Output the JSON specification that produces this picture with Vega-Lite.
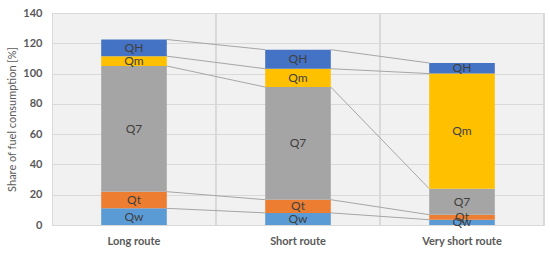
{
  "$schema": "https://vega.github.io/schema/vega-lite/v6.json",
  "width": 492,
  "height": 212,
  "autosize": {"type": "none"},
  "padding": {"left": 52, "top": 13, "right": 6, "bottom": 28},
  "background": "white",
  "config": {
    "view": {"fill": "#f1f1f1", "stroke": "#d9d9d9", "strokeWidth": 1},
    "font": "Lato",
    "axis": {"labelOverlap": false},
    "axisQuantitative": {"labelOverlap": false},
    "axisX": {"title": null, "labelAngle": 0, "labelAlign": "center", "labelBaseline": "top", "labelFontWeight": "bold", "labelColor": "#595959", "labelFontSize": 11, "ticks": false, "domain": false, "grid": false, "labelPadding": 10},
    "axisY": {"labelOverlap": false, "titleFontWeight": "normal", "titleColor": "#595959", "titleFontSize": 11, "labelFontWeight": "bold", "labelFontSize": 11, "labelColor": "#595959", "domain": false, "ticks": false, "gridColor": "#d9d9d9", "labelPadding": 10, "titlePadding": 5}
  },
  "data": {"values": [
    {"route": "Long route", "comp": "Qw", "k": 1, "value": 11},
    {"route": "Long route", "comp": "Qt", "k": 2, "value": 11},
    {"route": "Long route", "comp": "Q7", "k": 3, "value": 83},
    {"route": "Long route", "comp": "Qm", "k": 4, "value": 6.5},
    {"route": "Long route", "comp": "QH", "k": 5, "value": 11},
    {"route": "Short route", "comp": "Qw", "k": 1, "value": 8},
    {"route": "Short route", "comp": "Qt", "k": 2, "value": 8.7},
    {"route": "Short route", "comp": "Q7", "k": 3, "value": 74.4},
    {"route": "Short route", "comp": "Qm", "k": 4, "value": 12.1},
    {"route": "Short route", "comp": "QH", "k": 5, "value": 12.6},
    {"route": "Very short route", "comp": "Qw", "k": 1, "value": 3.5},
    {"route": "Very short route", "comp": "Qt", "k": 2, "value": 3.3},
    {"route": "Very short route", "comp": "Q7", "k": 3, "value": 17.2},
    {"route": "Very short route", "comp": "Qm", "k": 4, "value": 76},
    {"route": "Very short route", "comp": "QH", "k": 5, "value": 7}
  ]},
  "transform": [
    {"stack": "value", "groupby": ["route"], "sort": [{"field": "k", "order": "ascending"}], "as": ["y0", "y1"]},
    {"calculate": "(datum.y0 + datum.y1) / 2", "as": "ym"},
    {"window": [{"op": "lead", "field": "y1", "as": "ny"}, {"op": "lead", "field": "route", "as": "nroute"}], "groupby": ["comp"], "sort": [{"field": "route", "order": "ascending"}]}
  ],
  "layer": [
    {
      "mark": {"type": "rule", "color": "#d9d9d9", "strokeWidth": 1},
      "encoding": {
        "x": {"field": "route", "type": "nominal", "title": null, "sort": ["Long route", "Short route", "Very short route"], "bandPosition": 1.75, "scale": {"paddingInner": 0.6, "paddingOuter": 0.3}}
      }
    },
    {
      "transform": [{"filter": "datum.nroute != null"}],
      "mark": {"type": "rule", "color": "#a6a6a6", "strokeWidth": 1},
      "encoding": {
        "x": {"field": "route", "type": "nominal", "title": null, "sort": ["Long route", "Short route", "Very short route"], "bandPosition": 1},
        "x2": {"field": "nroute", "bandPosition": 0},
        "y": {"field": "y1", "type": "quantitative", "title": "Share of fuel consumption  [%]", "axis": {"values": [0, 20, 40, 60, 80, 100, 120, 140], "labelOverlap": false}},
        "y2": {"field": "ny"}
      }
    },
    {
      "mark": {"type": "bar"},
      "encoding": {
        "x": {"field": "route", "type": "nominal", "title": null, "sort": ["Long route", "Short route", "Very short route"]},
        "y": {"field": "y1", "type": "quantitative", "title": "Share of fuel consumption  [%]", "scale": {"domain": [0, 140], "nice": false}, "axis": {"values": [0, 20, 40, 60, 80, 100, 120, 140], "labelOverlap": false}},
        "y2": {"field": "y0"},
        "color": {"field": "comp", "type": "nominal", "scale": {"domain": ["QH", "Qm", "Q7", "Qt", "Qw"], "range": ["#4472C4", "#FFC000", "#A5A5A5", "#ED7D31", "#5B9BD5"]}, "legend": null}
      }
    },
    {
      "mark": {"type": "text", "color": "#404040", "fontSize": 12, "baseline": "middle", "align": "center"},
      "encoding": {
        "x": {"field": "route", "type": "nominal", "title": null, "sort": ["Long route", "Short route", "Very short route"]},
        "y": {"field": "ym", "type": "quantitative", "title": "Share of fuel consumption  [%]", "axis": {"values": [0, 20, 40, 60, 80, 100, 120, 140], "labelOverlap": false}},
        "text": {"field": "comp"}
      }
    }
  ]
}
